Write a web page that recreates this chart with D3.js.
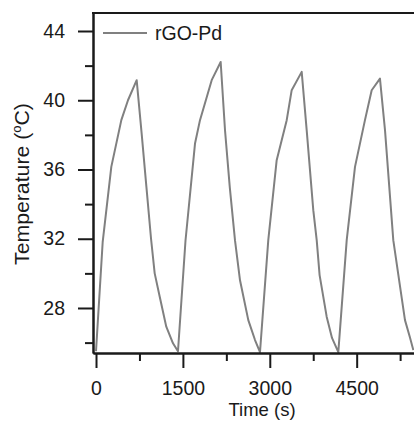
<!DOCTYPE html>
<html>
<head>
    <meta charset="utf-8">
    <title></title>
    <style>
        body { margin: 0; background: #fff; }
        text { font-family: "Liberation Sans", Arial, sans-serif; fill: #1a1a1a; }
    </style>
</head>
<body>
<script src="https://cdn.jsdelivr.net/npm/d3@7/dist/d3.min.js"></script>
<script>
    var time = [0, 115, 264, 437, 552, 702, 790, 870, 950, 1013, 1100, 1213, 1329, 1415,
        1545, 1709, 1795, 1997, 2152, 2227, 2310, 2399, 2486, 2629, 2745, 2831,
        2974, 3119, 3292, 3378, 3551, 3637, 3751, 3810, 3860, 3982, 4074, 4183,
        4328, 4471, 4643, 4759, 4902, 4989, 5132, 5220, 5334, 5420, 5478];
    var temp = [25.5, 31.8, 36.15, 38.85, 40.0, 41.16, 38.0, 35.0, 32.0, 30.0, 28.65, 26.92, 25.96, 25.5,
        31.9, 37.5, 38.85, 41.16, 42.21, 38.27, 34.95, 31.92, 29.6, 27.3, 26.15, 25.45,
        31.92, 36.54, 38.85, 40.58, 41.64, 38.27, 33.65, 31.92, 29.9, 27.5, 26.27, 25.45,
        31.92, 36.15, 38.85, 40.58, 41.25, 38.27, 31.92, 29.9, 27.3, 26.3, 25.57];

    var xMajor = [0, 1500, 3000, 4500];
    var xMinor = [750, 2250, 3750, 5250];
    var yMajor = [28, 32, 36, 40, 44];
    var yMinor = [26, 30, 34, 38, 42];
    var seriesName = "rGO-Pd";

    var width  = 414;
    var height = 425;
    var plotLeft = 93, plotTop = 13, plotBottom = 353, plotRight = 414.6;
    var fs = "19.5px";

    var svg = d3.select("body").append("svg")
        .attr("width", width)
        .attr("height", height);

    var x = d3.scaleLinear().domain([-52, 5500]).range([plotLeft, plotRight]);
    var y = d3.scaleLinear().domain([25.4, 45.04]).range([plotBottom, plotTop]);

    svg.append("clipPath").attr("id", "clip")
        .append("rect")
        .attr("x", plotLeft).attr("y", plotTop - 2)
        .attr("width", plotRight - plotLeft).attr("height", plotBottom - plotTop + 2);

    var data = time.map(function(t, i){ return [t, temp[i]]; });

    var line = d3.line()
        .x(function(d){ return x(d[0]); })
        .y(function(d){ return y(d[1]); });

    svg.append("path")
        .datum(data)
        .attr("clip-path", "url(#clip)")
        .attr("fill", "none")
        .attr("stroke", "#808080")
        .attr("stroke-width", 2)
        .attr("stroke-linejoin", "round")
        .attr("d", line);

    // minor ticks first, then major ticks with labels
    function styleAxis(g) {
        g.selectAll("path, line").attr("stroke", "#1a1a1a").attr("stroke-width", 2);
        g.selectAll("text").attr("font-size", fs).attr("fill", "#1a1a1a")
            .attr("font-family", "Liberation Sans, Arial, sans-serif");
    }

    svg.append("g")
        .attr("transform", "translate(" + plotLeft + ",0)")
        .call(d3.axisLeft(y).tickValues(yMinor).tickSize(8).tickSizeOuter(0).tickFormat(""))
        .call(styleAxis);
    svg.append("g")
        .attr("transform", "translate(" + plotLeft + ",0)")
        .call(d3.axisLeft(y).tickValues(yMajor).tickSize(15).tickSizeOuter(0).tickPadding(13))
        .call(styleAxis);

    svg.append("g")
        .attr("transform", "translate(0," + plotBottom + ")")
        .call(d3.axisBottom(x).tickValues(xMinor).tickSize(8).tickSizeOuter(0).tickFormat(""))
        .call(styleAxis);
    svg.append("g")
        .attr("transform", "translate(0," + plotBottom + ")")
        .call(d3.axisBottom(x).tickValues(xMajor).tickSize(15).tickSizeOuter(0).tickPadding(13)
            .tickFormat(d3.format("d")))
        .call(styleAxis);

    // top frame line
    svg.append("line")
        .attr("x1", plotLeft - 1).attr("x2", plotRight)
        .attr("y1", plotTop).attr("y2", plotTop)
        .attr("stroke", "#1a1a1a").attr("stroke-width", 2);

    // axis titles
    svg.append("text")
        .attr("x", 262).attr("y", 416)
        .attr("text-anchor", "middle")
        .attr("font-size", "18.5px")
        .text("Time (s)");

    var yt = svg.append("text")
        .attr("transform", "translate(29,184)rotate(-90)scale(1.09,1)")
        .attr("text-anchor", "middle")
        .attr("font-size", "19.5px");
    yt.append("tspan").text("Temperature (");
    yt.append("tspan").attr("font-size", "12px").attr("dy", "-8").text("o");
    yt.append("tspan").attr("dy", "8").text("C)");

    // legend
    svg.append("line")
        .attr("x1", 103).attr("x2", 147)
        .attr("y1", 33).attr("y2", 33)
        .attr("stroke", "#808080").attr("stroke-width", 2);
    svg.append("text")
        .attr("x", 155).attr("y", 40)
        .attr("font-size", fs)
        .text(seriesName);
</script>
</body>
</html>
